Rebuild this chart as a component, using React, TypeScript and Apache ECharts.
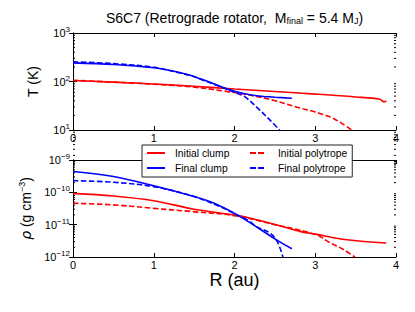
import React, { useEffect, useRef } from "react";
import * as echarts from "echarts";

// ---- Data ----
// Top panel: temperature T (K) vs R (au)
const R_ic_T = [0, 0.5, 1, 1.5, 2, 2.5, 3, 3.5, 3.8, 3.85, 3.88];
const T_ic = [105, 97, 89, 80, 70, 62, 55, 48, 43, 38, 40];
const R_ip_T = [0, 0.5, 1, 1.45, 1.86, 2.2, 2.48, 2.81, 3.0, 3.22, 3.45];
const T_ip = [106, 97, 88, 78, 64, 52, 41, 28.5, 23.5, 17.5, 10];
const R_fc_T = [0, 0.5, 1, 1.25, 1.45, 1.655, 1.86, 2.0, 2.27, 2.5, 2.71];
const T_fc = [242, 224, 192, 163, 135, 102, 75, 63, 51, 47.5, 45];
const R_fp_T = [0, 0.5, 1, 1.25, 1.45, 1.655, 1.86, 2.0, 2.13, 2.27, 2.44, 2.56];
const T_fp = [254, 234, 197, 160, 133, 100, 74, 60, 48, 30, 16, 10];

// Bottom panel: density rho (g cm^-3) vs R (au)
const R_ic_D = [0, 0.5, 1, 1.5, 2, 2.11, 2.56, 2.81, 3.0, 3.39, 3.88];
const D_ic = [9.3e-11, 7.7e-11, 5.5e-11, 3.0e-11, 2.0e-11, 1.78e-11, 9.3e-12, 6.2e-12, 5.1e-12, 3.4e-12, 2.7e-12];
const R_ip_D = [0, 0.5, 1, 1.45, 2, 2.5, 3, 3.18, 3.35, 3.49];
const D_ip = [4.6e-11, 4.1e-11, 3.2e-11, 2.57e-11, 1.9e-11, 1.0e-11, 5.0e-12, 2.8e-12, 1.7e-12, 1.0e-12];
const R_fc_D = [0, 0.5, 1, 1.5, 1.75, 2.07, 2.52, 2.71];
const D_fc = [4.4e-10, 3.1e-10, 1.6e-10, 7.4e-11, 4.6e-11, 1.78e-11, 3.4e-12, 1.8e-12];
const R_fp_D = [0, 0.5, 1, 1.5, 1.82, 2.0, 2.19, 2.27, 2.44, 2.53, 2.6];
const D_fp = [2.3e-10, 2.05e-10, 1.5e-10, 7.4e-11, 3.6e-11, 2.2e-11, 1.26e-11, 8.7e-12, 5.5e-12, 3.0e-12, 1.0e-12];

const xTicks = [0, 1, 2, 3, 4];
const T_min = 10, T_max = 1000;
const D_min = 1e-12, D_max = 1e-9;
const minorT = [2, 3, 4, 5, 6, 7, 8, 9, 20, 30, 40, 50, 60, 70, 80, 90, 200, 300, 400, 500, 600, 700, 800, 900];
const minorD = [1e-12, 1e-11, 1e-10].flatMap((d) => [2, 3, 4, 5, 6, 7, 8, 9].map((m) => m * d));

const names = ["Initial clump", "Final clump", "Initial polytrope", "Final polytrope"];

const FONT = "Liberation Sans, Arial, sans-serif";
const RED = "#ff0000";
const BLUE = "#0000ff";
const ICON_SOLID = "path://M0,0H18V2H0Z";
const ICON_DASH = "path://M0,0H6V2H0Z M8,0H14V2H8Z M18,0L18,2Z";

function zip(xs: number[], ys: number[]) {
  return xs.map((x, i) => [x, ys[i]]);
}

function expLabel(v: number) {
  const e = Math.round(Math.log10(v));
  const s = e < 0 ? "\u2212" + Math.abs(e) : String(e);
  return "{b|10}{s|" + s + "}";
}

const labelRich = {
  b: { fontSize: 11, lineHeight: 15, fontFamily: FONT, color: "#000" },
  s: { fontSize: 8, lineHeight: 8, verticalAlign: "top", fontFamily: FONT, color: "#000" },
};

export default function App() {
  const ref = useRef<HTMLDivElement>(null);
  useEffect(() => {
    if (!ref.current) return;
    const chart = echarts.init(ref.current, null, { renderer: "svg" });

    const axisLine = { show: true, lineStyle: { color: "#000", width: 1 } };
    const xBase = (grid: number, pos: "bottom" | "top", labels: boolean, name?: string) => ({
      type: "value",
      gridIndex: grid,
      position: pos,
      min: 0,
      max: 4,
      interval: 1,
      axisLine,
      axisTick: { show: true, inside: true, length: 4, lineStyle: { color: "#000" } },
      axisLabel: {
        show: labels,
        margin: 2,
        fontSize: 11,
        fontFamily: FONT,
        color: "#000",
        formatter: (v: number) => (xTicks.includes(v) ? String(v) : ""),
      },
      splitLine: { show: false },
      name: name || "",
      nameLocation: "middle",
      nameGap: 14,
      nameTextStyle: { fontSize: 18, fontFamily: FONT, color: "#000" },
    });
    const yBase = (grid: number, pos: "left" | "right", labels: boolean, min: number, max: number, name?: any) => ({
      type: "log",
      logBase: 10,
      gridIndex: grid,
      position: pos,
      min,
      max,
      axisLine,
      axisTick: { show: true, inside: true, length: 4, lineStyle: { color: "#000" } },
      minorTick: { show: false },
      axisLabel: {
        show: labels,
        margin: 3,
        formatter: (v: number) => expLabel(v),
        rich: labelRich,
      },
      splitLine: { show: false },
      name: name ? name.text : "",
      nameLocation: "middle",
      nameRotate: 90,
      nameGap: name ? name.gap : 0,
      nameTextStyle: name ? name.style : {},
    });

    const minorSeries = (grid: number, vals: number[]) => ({
      type: "custom",
      xAxisIndex: grid * 2,
      yAxisIndex: grid * 2,
      silent: true,
      z: 1,
      data: vals.map((v) => [0, v]),
      renderItem: (params: any, api: any) => {
        const v = api.value(1);
        const l = api.coord([0, v]);
        const r = api.coord([4, v]);
        const st = { stroke: "#000", lineWidth: 1 };
        return {
          type: "group",
          children: [
            { type: "line", shape: { x1: l[0], y1: l[1], x2: l[0] + 2, y2: l[1] }, style: st },
            { type: "line", shape: { x1: r[0] - 2, y1: r[1], x2: r[0], y2: r[1] }, style: st },
          ],
        };
      },
    });

    const line = (name: string, data: number[][], color: string, dashed: boolean, grid: number) => ({
      type: "line",
      name,
      data,
      xAxisIndex: grid * 2,
      yAxisIndex: grid * 2,
      showSymbol: false,
      symbol: "none",
      smooth: 0.35,
      clip: true,
      z: 3,
      lineStyle: { color, width: 1.6, type: dashed ? [5.5, 2.5] : "solid" },
      itemStyle: { color },
    });

    chart.setOption({
      animation: false,
      backgroundColor: "#fff",
      textStyle: { fontFamily: FONT },
      grid: [
        { left: 73, top: 33, width: 323, height: 97 },
        { left: 73, top: 160, width: 323, height: 97 },
      ],
      xAxis: [
        xBase(0, "bottom", true),
        xBase(0, "top", false),
        xBase(1, "bottom", true, "R (au)"),
        xBase(1, "top", false),
      ],
      yAxis: [
        yBase(0, "left", true, T_min, T_max, {
          text: "T (K)",
          gap: 33,
          style: { fontSize: 14, fontFamily: FONT, color: "#000" },
        }),
        yBase(0, "right", false, T_min, T_max),
        yBase(1, "left", true, D_min, D_max, {
          text: "{i|\u03c1} (g cm{s|\u22123})",
          gap: 33,
          style: {
            fontSize: 14,
            fontFamily: FONT,
            color: "#000",
            rich: {
              i: { fontSize: 14, fontStyle: "italic", fontFamily: "DejaVu Sans", color: "#000", lineHeight: 18 },
              s: { fontSize: 9, verticalAlign: "top", lineHeight: 9, fontFamily: FONT, color: "#000" },
            },
          },
        }),
        yBase(1, "right", false, D_min, D_max),
      ],
      legend: {
        orient: "vertical",
        left: 142,
        top: 145,
        height: 27,
        padding: [2, 5, 3, 5],
        itemGap: 3,
        itemWidth: 18,
        itemHeight: 12,
        backgroundColor: "#fff",
        borderColor: "#222",
        borderWidth: 1,
        borderRadius: 0,
        z: 10,
        textStyle: { fontSize: 10.3, fontFamily: FONT, color: "#000", lineHeight: 12, padding: [0, 0, 0, 5] },
        data: [
          { name: names[0], icon: ICON_SOLID, itemStyle: { color: RED }, textStyle: { width: 72 } },
          { name: names[1], icon: ICON_SOLID, itemStyle: { color: BLUE }, textStyle: { width: 72 } },
          { name: names[2], icon: ICON_DASH, itemStyle: { color: RED }, textStyle: { width: 63 } },
          { name: names[3], icon: ICON_DASH, itemStyle: { color: BLUE }, textStyle: { width: 63 } },
        ],
      },
      graphic: [
        {
          type: "text",
          x: 234.5,
          y: 18,
          style: {
            text: "S6C7 (Retrograde rotator,  M{sub|final} = 5.4 M{sub|J})",
            align: "center",
            verticalAlign: "middle",
            fontSize: 14,
            fontFamily: FONT,
            fill: "#000",
            rich: {
              sub: { fontSize: 9, verticalAlign: "bottom", lineHeight: 10, fontFamily: FONT, fill: "#000" },
            },
          },
        },
      ],
      series: [
        line(names[0], zip(R_ic_T, T_ic), RED, false, 0),
        line(names[2], zip(R_ip_T, T_ip), RED, true, 0),
        line(names[1], zip(R_fc_T, T_fc), BLUE, false, 0),
        line(names[3], zip(R_fp_T, T_fp), BLUE, true, 0),
        line(names[0], zip(R_ic_D, D_ic), RED, false, 1),
        line(names[2], zip(R_ip_D, D_ip), RED, true, 1),
        line(names[1], zip(R_fc_D, D_fc), BLUE, false, 1),
        line(names[3], zip(R_fp_D, D_fp), BLUE, true, 1),
        minorSeries(0, minorT),
        minorSeries(1, minorD),
      ],
    });
    return () => chart.dispose();
  }, []);
  return <div ref={ref} style={{ width: 415, height: 312, position: "absolute", left: 0, top: 0 }} />;
}
